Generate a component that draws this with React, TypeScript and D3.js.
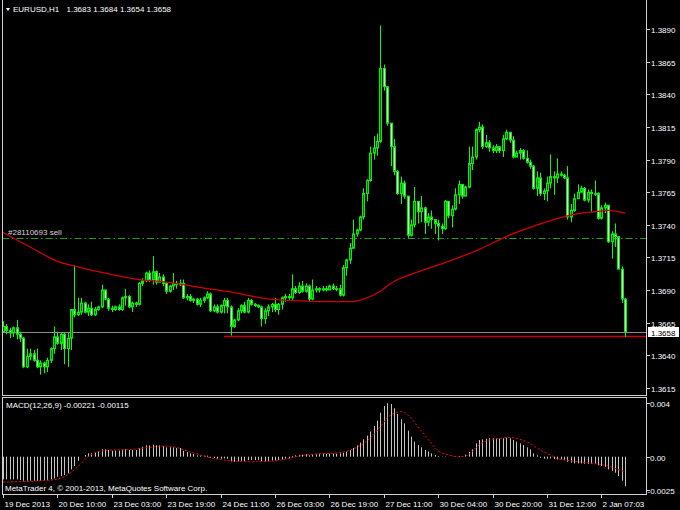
import * as d3 from 'd3';
import React from 'react';

const W = 680;
const H = 510;

// EURUSD H1 candles, 19 Dec 2013 18:00 .. 2 Jan 2014. open = previous close.
const firstOpen = 1.3658;
const closes = [
  1.3662, 1.3659, 1.3657, 1.3661, 1.3656, 1.3653, 1.3631, 1.3639, 1.3641, 1.3636,
  1.3631, 1.3634, 1.3631, 1.3636, 1.3645, 1.3654, 1.3649, 1.3656, 1.3645, 1.3653,
  1.3675, 1.3671, 1.3673, 1.368, 1.3673, 1.3676, 1.3671, 1.3675, 1.3677, 1.369,
  1.3683, 1.3676, 1.3675, 1.3677, 1.3675, 1.3684, 1.3685, 1.3677, 1.368, 1.3679,
  1.3695, 1.3697, 1.3703, 1.3698, 1.3704, 1.3696, 1.37, 1.3695, 1.3689, 1.3693,
  1.3695, 1.3694, 1.3695, 1.3684, 1.3685, 1.3682, 1.3683, 1.3679, 1.3682, 1.3684,
  1.3687, 1.3674, 1.3677, 1.3673, 1.3678, 1.3682, 1.3677, 1.3662, 1.3667, 1.3674,
  1.3678, 1.3673, 1.3682, 1.3679, 1.3678, 1.3677, 1.3668, 1.3674, 1.3677, 1.3679,
  1.3675, 1.3679, 1.3684, 1.3685, 1.3684, 1.3691, 1.3688, 1.3693, 1.3689, 1.3693,
  1.3683, 1.369, 1.3691, 1.369, 1.3691, 1.369, 1.3693, 1.3691, 1.3691, 1.3686,
  1.3707, 1.3713, 1.3722, 1.3733, 1.3736, 1.3746, 1.3764, 1.3774, 1.3795, 1.3799,
  1.3804, 1.386, 1.3846, 1.3818, 1.38, 1.3781, 1.3764, 1.3772, 1.3762, 1.3732,
  1.374, 1.3758, 1.375, 1.3753, 1.3742, 1.3746, 1.3744, 1.3741, 1.3739, 1.3737,
  1.3758, 1.3747, 1.3752, 1.3763, 1.3771, 1.3762, 1.3769, 1.3787, 1.3792, 1.3813,
  1.3815, 1.38, 1.3803, 1.3799, 1.3797, 1.38, 1.3797, 1.3806, 1.3811, 1.3805,
  1.3792, 1.3795, 1.3797, 1.3791, 1.3788, 1.3785, 1.3768, 1.3776, 1.3764, 1.3766,
  1.3772, 1.3777, 1.3776, 1.3779, 1.3778, 1.3776, 1.3746, 1.3751, 1.376, 1.3765,
  1.3768, 1.3759, 1.3765, 1.3764, 1.3764, 1.3745, 1.3753, 1.3755, 1.3727, 1.3733,
  1.3731, 1.3706, 1.3683, 1.3658,
];
const highs = [
  1.3666, 1.3664, 1.3661, 1.3662, 1.3667, 1.3658, 1.3654, 1.3645, 1.3645, 1.3644,
  1.3645, 1.3636, 1.3635, 1.3638, 1.3646, 1.3662, 1.3658, 1.3657, 1.3657, 1.3657,
  1.3675, 1.3709, 1.3684, 1.3684, 1.3681, 1.3679, 1.3681, 1.3677, 1.3678, 1.3694,
  1.369, 1.3684, 1.3678, 1.3678, 1.3679, 1.3685, 1.3691, 1.3686, 1.3681, 1.3681,
  1.3696, 1.3699, 1.3704, 1.3705, 1.3716, 1.3705, 1.3703, 1.3702, 1.3696, 1.3694,
  1.3703, 1.3697, 1.3698, 1.3698, 1.3687, 1.3687, 1.3684, 1.3684, 1.3684, 1.3685,
  1.3689, 1.3688, 1.3679, 1.3679, 1.3679, 1.3684, 1.3684, 1.3678, 1.3668, 1.3676,
  1.3679, 1.3681, 1.3684, 1.3683, 1.368, 1.3679, 1.3678, 1.3676, 1.3679, 1.368,
  1.3684, 1.368, 1.3685, 1.3687, 1.3687, 1.3702, 1.3693, 1.3696, 1.3697, 1.3695,
  1.3694, 1.3698, 1.3693, 1.3692, 1.3693, 1.3693, 1.3694, 1.3695, 1.3693, 1.3694,
  1.3709, 1.3714, 1.3726, 1.3744, 1.3737, 1.3747, 1.3768, 1.3775, 1.38, 1.3808,
  1.381, 1.3893, 1.3863, 1.3846, 1.3818, 1.3806, 1.3782, 1.3777, 1.3774, 1.3762,
  1.3744, 1.3769, 1.3758, 1.3762, 1.3754, 1.3749, 1.3751, 1.3744, 1.3744, 1.3741,
  1.3759, 1.3758, 1.3755, 1.3768, 1.3774, 1.3771, 1.377, 1.38, 1.38, 1.3814,
  1.3819, 1.3817, 1.3809, 1.3805, 1.3801, 1.3802, 1.38, 1.3809, 1.3813, 1.3811,
  1.3808, 1.3797, 1.3799, 1.3798, 1.3797, 1.379, 1.3786, 1.3781, 1.378, 1.3768,
  1.3777, 1.3794, 1.3781, 1.3791, 1.3781, 1.3779, 1.3785, 1.3756, 1.3764, 1.3771,
  1.377, 1.3769, 1.3767, 1.3767, 1.3774, 1.3765, 1.3755, 1.3757, 1.3755, 1.3735,
  1.3741, 1.3731, 1.3708, 1.3684,
];
const lows = [
  1.3657, 1.3656, 1.3653, 1.3654, 1.3652, 1.365, 1.363, 1.363, 1.3636, 1.3635,
  1.363, 1.3625, 1.3626, 1.3627, 1.3634, 1.3641, 1.3648, 1.3644, 1.3633, 1.3631,
  1.3644, 1.3669, 1.367, 1.3671, 1.3672, 1.367, 1.367, 1.367, 1.3674, 1.3676,
  1.3682, 1.3674, 1.3673, 1.3674, 1.3674, 1.3674, 1.3678, 1.3676, 1.3673, 1.3677,
  1.3678, 1.3693, 1.3696, 1.3696, 1.3694, 1.3694, 1.3696, 1.3693, 1.3687, 1.3688,
  1.369, 1.3691, 1.3693, 1.3683, 1.3682, 1.3681, 1.368, 1.3678, 1.3677, 1.368,
  1.3683, 1.3673, 1.3673, 1.3672, 1.3672, 1.3672, 1.3672, 1.3655, 1.3661, 1.3666,
  1.3672, 1.3672, 1.3672, 1.3678, 1.3677, 1.3676, 1.3662, 1.3664, 1.367, 1.3673,
  1.3673, 1.3671, 1.3675, 1.3681, 1.3682, 1.3682, 1.3687, 1.3687, 1.3688, 1.3688,
  1.3681, 1.3682, 1.3688, 1.3688, 1.3689, 1.3689, 1.369, 1.369, 1.3689, 1.3685,
  1.3685, 1.3701, 1.371, 1.3722, 1.3731, 1.3735, 1.3744, 1.3758, 1.3773, 1.379,
  1.3793, 1.3803, 1.3843, 1.3816, 1.3785, 1.3778, 1.3763, 1.3756, 1.376, 1.373,
  1.3731, 1.3738, 1.3741, 1.3742, 1.3733, 1.3739, 1.3737, 1.3733, 1.3728, 1.3733,
  1.3736, 1.3745, 1.3738, 1.3751, 1.3756, 1.376, 1.3762, 1.3768, 1.3782, 1.379,
  1.3811, 1.3798, 1.3799, 1.3796, 1.3795, 1.3795, 1.3795, 1.3792, 1.3805, 1.3803,
  1.3791, 1.3792, 1.379, 1.379, 1.3787, 1.3783, 1.3767, 1.3762, 1.3762, 1.3759,
  1.3758, 1.3768, 1.3763, 1.3772, 1.3777, 1.3775, 1.3744, 1.3742, 1.375, 1.376,
  1.3765, 1.3758, 1.3757, 1.375, 1.3762, 1.3744, 1.3744, 1.3749, 1.3726, 1.3714,
  1.3723, 1.3706, 1.368, 1.3654,
];

// moving average (red), sampled at these bars
const maBars = [0, 8, 16, 20, 28, 40, 48, 60, 68, 78, 84, 96, 102, 106, 111, 114, 120, 130, 140, 148, 154, 162, 168, 174, 178, 183];
const maValues = [1.3734, 1.3723, 1.3712, 1.3709, 1.3704, 1.3698, 1.3696, 1.3691, 1.3688, 1.3683, 1.3682, 1.3681, 1.3681, 1.3683, 1.3689, 1.3695, 1.3702, 1.3711, 1.3721, 1.3731, 1.3737, 1.3744, 1.3748, 1.375, 1.3751, 1.3749];

// MACD(12,26,9) histogram, one per bar
const macdHist = [
  -0.0017, -0.0017, -0.0017, -0.0017, -0.0017, -0.00175, -0.0018, -0.0018, -0.0018, -0.0018,
  -0.0018, -0.0018, -0.0018, -0.00175, -0.0017, -0.00163, -0.0015, -0.00145, -0.00138, -0.00125,
  -0.00095, -0.0007, -0.0003, 0, 0.00013, 0.00025, 0.00025, 0.00035, 0.0004, 0.00055,
  0.00055, 0.0005, 0.00045, 0.00045, 0.00045, 0.0005, 0.00055, 0.0005, 0.0005, 0.0005,
  0.00065, 0.00075, 0.00085, 0.00085, 0.0009, 0.00085, 0.00085, 0.0008, 0.0007, 0.0007,
  0.0007, 0.00065, 0.00065, 0.00045, 0.00035, 0.00025, 0.0002, 0.0001, 0.00008, 0.00008,
  0.00008, -0.00008, -0.0001, -0.00015, -0.00015, -0.00013, -0.00015, -0.00035, -0.00038, -0.00035,
  -0.0003, -0.00033, -0.00025, -0.00025, -0.00025, -0.00025, -0.00035, -0.00035, -0.00033, -0.00028,
  -0.00028, -0.00025, -0.0002, -0.00015, -0.00013, 0.00005, 0.0001, 0.00015, 0.00015, 0.00018,
  0.0001, 0.00015, 0.00018, 0.0002, 0.0002, 0.0002, 0.00023, 0.00023, 0.00023, 0.00025,
  0.0003, 0.00038, 0.0005, 0.00065, 0.00085, 0.00105, 0.0013, 0.00158, 0.00188, 0.0023,
  0.0027, 0.0033, 0.0038, 0.004, 0.00395, 0.00363, 0.0032, 0.0028, 0.0025, 0.00195,
  0.0015, 0.00113, 0.00088, 0.0007, 0.0005, 0.00038, 0.00025, 0.00013, 0.00005, 0.00002,
  0.00003, 0.00001, 0.00001, 0.00002, 0.00005, 0.00005, 0.00015, 0.00035, 0.00055, 0.001,
  0.00125, 0.0013, 0.00135, 0.00138, 0.00138, 0.00138, 0.00135, 0.00138, 0.00143, 0.00138,
  0.00125, 0.00113, 0.001, 0.00088, 0.0007, 0.00055, 0.00025, 0.0001, -0.00008, -0.00015,
  -0.00015, -0.00013, -0.00018, -0.0002, -0.0002, -0.00025, -0.00038, -0.00045, -0.0005, -0.0005,
  -0.0005, -0.00053, -0.00055, -0.00055, -0.00055, -0.00065, -0.0007, -0.00075, -0.00095, -0.00105,
  -0.0012, -0.00145, -0.0018, -0.00221,
];
const signalBars = [0, 14, 18, 22, 25, 28, 32, 38, 43, 48, 51, 54, 58, 62, 67, 73, 79, 84, 87, 92, 99, 104, 108, 111, 113, 115, 117, 118, 120, 122, 124, 126, 128, 131, 134, 136, 138, 140, 143, 146, 149, 152, 155, 158, 161, 163, 167, 171, 175, 178, 180, 183];
const signalValues = [-0.0019, -0.00175, -0.0015, -0.00075, 0, 0.00038, 0.0005, 0.00055, 0.0007, 0.0008, 0.0007, 0.00045, 0.00013, -0.00013, -0.0003, -0.00038, -0.00033, -0.00013, 0.00005, 0.0002, 0.0003, 0.0007, 0.00138, 0.00225, 0.0029, 0.00325, 0.00338, 0.0033, 0.0029, 0.00225, 0.00163, 0.001, 0.00045, 0.00013, 0, 0.00005, 0.00038, 0.00088, 0.00125, 0.00138, 0.00143, 0.0013, 0.001, 0.0005, 0.00013, -0.00013, -0.0003, -0.00043, -0.00055, -0.0007, -0.00088, -0.00115];

const priceTicks = [1.389, 1.3865, 1.384, 1.3815, 1.379, 1.3765, 1.374, 1.3715, 1.369, 1.3665, 1.364, 1.3615];
const macdTicks = [0.004, 0, -0.0025];
const macdTickLabels = ['0.004', '0.00', '-0.0025'];
const timeBars = [0, 16, 32, 48, 64, 80, 96, 112, 128, 144, 160, 176];
const timeLabels = ['19 Dec 2013', '20 Dec 10:00', '23 Dec 03:00', '23 Dec 19:00', '24 Dec 11:00', '26 Dec 03:00', '26 Dec 19:00', '27 Dec 11:00', '30 Dec 04:00', '30 Dec 20:00', '31 Dec 12:00', '2 Jan 07:03'];

const bidPrice = 1.3658;
const orderPrice = 1.373;
const orderLabel = '#28110693 sell';
const levelStartBar = 65;
const levelPrice = 1.3655;

const FONT = "'Liberation Sans', Arial, sans-serif";

export default function App() {
  const ref = React.useRef<SVGSVGElement>(null);

  React.useEffect(() => {
    if (!ref.current) return;
    const svg = d3.select(ref.current);
    svg.selectAll('*').remove();

    const left = 2, right = 646, mainBottom = 395, subTop = 397, subBottom = 494;

    svg.append('rect').attr('width', W).attr('height', H).attr('fill', '#000');

    const x = d3.scaleLinear().domain([0, 183]).range([3, 625.2]);
    const y = d3.scaleLinear().domain([1.36094, 1.39125]).range([mainBottom, 0]);
    const ym = d3.scaleLinear().domain([-0.002794, 0.004472]).range([subBottom, subTop]);
    const px = (i: number) => Math.round(x(i));

    svg.append('clipPath').attr('id', 'mainClip')
      .append('rect').attr('x', left + 1).attr('y', 0).attr('width', right - left - 1).attr('height', mainBottom);
    const g = svg.append('g').attr('clip-path', 'url(#mainClip)');

    // bid line and support level
    g.append('line').attr('x1', left).attr('x2', right)
      .attr('y1', Math.round(y(bidPrice)) + 0.5).attr('y2', Math.round(y(bidPrice)) + 0.5)
      .attr('stroke', '#8c8c8c');
    g.append('line').attr('x1', x(levelStartBar)).attr('x2', right)
      .attr('y1', Math.round(y(levelPrice)) + 0.5).attr('y2', Math.round(y(levelPrice)) + 0.5)
      .attr('stroke', '#d00000').attr('stroke-width', 1.3);

    // order level
    g.append('line').attr('x1', left).attr('x2', right)
      .attr('y1', Math.round(y(orderPrice)) + 0.5).attr('y2', Math.round(y(orderPrice)) + 0.5)
      .attr('stroke', '#20a020').attr('stroke-dasharray', '7,3,1.5,3');
    g.append('text').attr('x', 8).attr('y', y(orderPrice) - 3)
      .attr('fill', '#d8d8d8').attr('font-size', 8).attr('font-family', FONT).text(orderLabel);

    // candles
    closes.forEach((c, i) => {
      const o = i === 0 ? firstOpen : closes[i - 1];
      const bull = c >= o;
      const cx = px(i);
      g.append('line').attr('x1', cx + 0.5).attr('x2', cx + 0.5)
        .attr('y1', y(highs[i])).attr('y2', y(lows[i]))
        .attr('stroke', '#00ff00');
      const top = y(Math.max(o, c));
      const h = Math.max(0.8, Math.abs(y(o) - y(c)));
      g.append('rect').attr('x', cx - 0.5).attr('y', top).attr('width', 2).attr('height', h)
        .attr('fill', bull ? '#006a00' : '#d4ffd4')
        .attr('stroke', '#00f000').attr('stroke-width', 1);
    });

    // moving average
    const ma = d3.line<number>().x((b) => x(b)).y((_, k) => y(maValues[k])).curve(d3.curveMonotoneX);
    g.append('path').datum(maBars).attr('d', ma).attr('fill', 'none')
      .attr('stroke', '#d00000').attr('stroke-width', 1.3);

    // MACD histogram
    const s = svg.append('g');
    macdHist.forEach((v, i) => {
      s.append('line').attr('x1', px(i) + 0.5).attr('x2', px(i) + 0.5)
        .attr('y1', ym(0)).attr('y2', ym(v))
        .attr('stroke', '#c4c4c4').attr('stroke-width', 1);
    });
    const sig = d3.line<number>().x((b) => x(b)).y((_, k) => ym(signalValues[k])).curve(d3.curveMonotoneX);
    s.append('path').datum(signalBars).attr('d', sig).attr('fill', 'none')
      .attr('stroke', '#ff0000').attr('stroke-width', 1).attr('stroke-dasharray', '2,2');

    // frames
    const frame = svg.append('g').attr('stroke', '#d0d0d0').attr('stroke-width', 1);
    frame.append('line').attr('x1', left + 0.5).attr('x2', left + 0.5).attr('y1', 0).attr('y2', mainBottom + 1);
    frame.append('line').attr('x1', right + 0.5).attr('x2', right + 0.5).attr('y1', 0).attr('y2', mainBottom + 1);
    frame.append('line').attr('x1', left).attr('x2', right + 1).attr('y1', mainBottom + 0.5).attr('y2', mainBottom + 0.5);
    frame.append('line').attr('x1', left).attr('x2', right + 1).attr('y1', subTop + 0.5).attr('y2', subTop + 0.5);
    frame.append('line').attr('x1', left).attr('x2', right + 1).attr('y1', subBottom + 0.5).attr('y2', subBottom + 0.5);
    frame.append('line').attr('x1', left + 0.5).attr('x2', left + 0.5).attr('y1', subTop).attr('y2', subBottom + 1);
    frame.append('line').attr('x1', right + 0.5).attr('x2', right + 0.5).attr('y1', subTop).attr('y2', subBottom + 1);

    const txt = (sel: any) => sel.attr('font-family', FONT).attr('font-size', 8).attr('fill', '#ffffff');

    // price axis
    priceTicks.forEach((p) => {
      const ty = Math.round(y(p)) + 0.5;
      frame.append('line').attr('x1', right).attr('x2', right + 4).attr('y1', ty).attr('y2', ty);
      txt(svg.append('text')).attr('x', 651).attr('y', ty + 3).text(p.toFixed(4));
    });
    macdTicks.forEach((v, k) => {
      const ty = Math.round(ym(v)) + 0.5;
      frame.append('line').attr('x1', right).attr('x2', right + 4).attr('y1', ty).attr('y2', ty);
      txt(svg.append('text')).attr('x', v < 0 ? 647.5 : 650).attr('y', ty + 3).text(macdTickLabels[k]);
    });

    // bid price box
    const by = Math.round(y(bidPrice));
    svg.append('rect').attr('x', 648.5).attr('y', by - 4.5).attr('width', 30).attr('height', 9)
      .attr('fill', '#ffffff').attr('stroke', '#ffffff');
    txt(svg.append('text')).attr('fill', '#000').attr('x', 651).attr('y', by + 3.5).text(bidPrice.toFixed(4));

    // time axis
    timeBars.forEach((b, k) => {
      const tx = px(b) + 0.5;
      frame.append('line').attr('x1', tx).attr('x2', tx).attr('y1', subBottom).attr('y2', subBottom + 4);
      txt(svg.append('text')).attr('x', tx + 1).attr('y', 506.5).text(timeLabels[k]);
    });

    // titles
    svg.append('path').attr('d', 'M6,8 L10,8 L8,11 Z').attr('fill', '#ffffff');
    txt(svg.append('text')).attr('x', 13).attr('y', 12).text('EURUSD,H1');
    txt(svg.append('text')).attr('x', 66.5).attr('y', 12)
      .text(`${closes[closes.length - 2].toFixed(4)} ${highs[highs.length - 1].toFixed(4)} ${lows[lows.length - 1].toFixed(4)} ${closes[closes.length - 1].toFixed(4)}`);
    txt(svg.append('text')).attr('x', 6).attr('y', 408)
      .text(`MACD(12,26,9) ${macdHist[macdHist.length - 1].toFixed(5)} ${signalValues[signalValues.length - 1].toFixed(5)}`);
    txt(svg.append('text')).attr('x', 5).attr('y', 491)
      .text('MetaTrader 4, \u00a9 2001-2013, MetaQuotes Software Corp.');
  }, []);

  return (
    <div style={{ position: 'fixed', left: 0, top: 0, width: W, height: H, background: '#000' }}>
      <svg ref={ref} width={W} height={H} style={{ display: 'block' }} />
    </div>
  );
}
